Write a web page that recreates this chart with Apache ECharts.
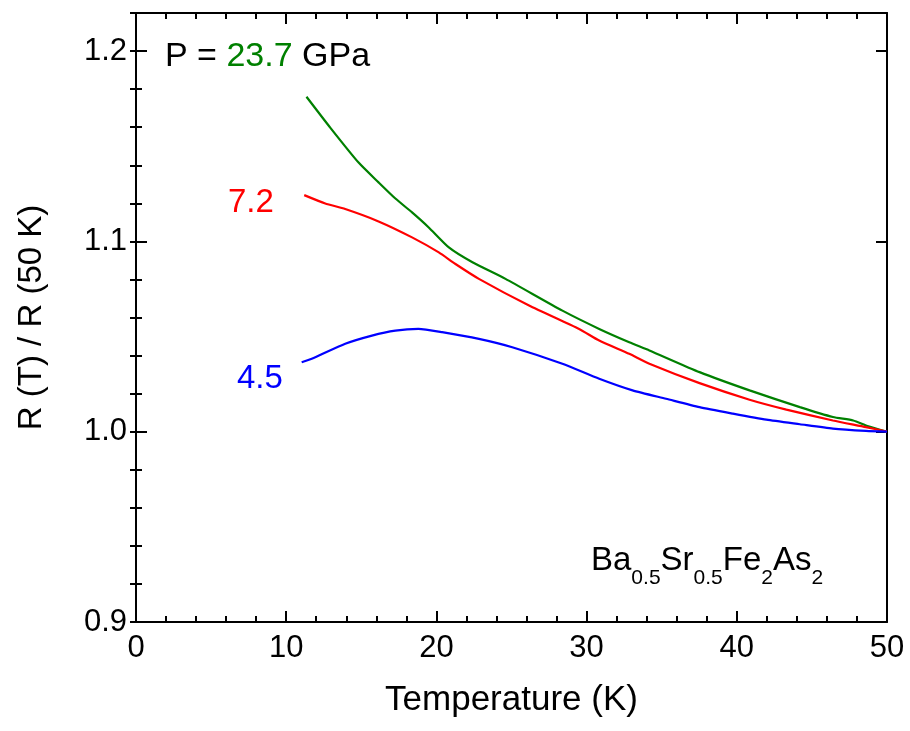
<!DOCTYPE html>
<html>
<head>
<meta charset="utf-8">
<title>R(T)/R(50 K) Ba0.5Sr0.5Fe2As2</title>
<script src="https://cdn.jsdelivr.net/npm/echarts@6/dist/echarts.min.js"></script>
<style>
  html, body { margin: 0; padding: 0; background: #fff; }
  #chart { width: 910px; height: 731px; }
</style>
</head>
<body>
<div id="chart"></div>
<script>
// temperature (K) and normalised resistance
const tGreen = [11.35, 12.93, 14.82, 16.15, 17.27, 18.38, 19.49, 20.83, 22.4, 24.6, 28.39, 30.84, 32.84, 34.18, 37.52, 40.85, 44.2, 46.4, 47.75, 48.7, 50];
const rGreen = [1.176, 1.1598, 1.1414, 1.131, 1.1225, 1.1152, 1.1073, 1.0968, 1.089, 1.0803, 1.0636, 1.054, 1.047, 1.0427, 1.0313, 1.0217, 1.0129, 1.0077, 1.0059, 1.003, 1.0];

const tRed = [11.2, 12.6, 13.93, 16.15, 18.38, 20.16, 21.27, 22.83, 26.17, 29.5, 30.84, 32.84, 34.18, 37.52, 40.85, 43.3, 46.4, 48.6, 50];
const rRed = [1.1243, 1.1199, 1.117, 1.1105, 1.1021, 1.0942, 1.0881, 1.0803, 1.0663, 1.054, 1.0479, 1.0409, 1.0357, 1.0255, 1.0168, 1.0116, 1.0059, 1.0024, 1.0];

const tBlue = [11.03, 11.7, 13.93, 15.71, 17.27, 18.8, 20.38, 22.83, 25.05, 28.39, 30.84, 33.06, 35.29, 37.52, 39.74, 41.97, 44.2, 46.4, 48.6, 50];
const rBlue = [1.0365, 1.0383, 1.0462, 1.0505, 1.0531, 1.054, 1.0523, 1.0488, 1.0444, 1.0357, 1.0278, 1.0217, 1.0173, 1.0129, 1.0095, 1.0063, 1.0039, 1.0016, 1.0004, 1.0];

const pressures = ['23.7', '7.2', '4.5'];
const colors = ['#008000', '#ff0000', '#0000ff'];

const font = 'Liberation Sans, Arial, sans-serif';
const zip = (xs, ys) => xs.map((x, i) => [x, ys[i]]);

const myChart = echarts.init(document.querySelector('#chart'));

const frame = { show: true, onZero: false, lineStyle: { color: '#000', width: 2 } };
const bigTick = { show: true, inside: true, length: 11, lineStyle: { color: '#000', width: 2 } };
const smallTick = { show: true, inside: true, length: 6, lineStyle: { color: '#000', width: 2 } };

const xCommon = {
  type: 'value', min: 0, max: 50, interval: 10,
  axisLine: frame, axisTick: bigTick,
  minorTick: { show: true, splitNumber: 5, length: 6, lineStyle: { color: '#000', width: 2 } },
  splitLine: { show: false }
};

const yMajor = {
  type: 'value', min: 0.9, max: 1.22, interval: 0.1,
  axisLine: frame, axisTick: bigTick, splitLine: { show: false }
};
const yMinor = {
  type: 'value', min: 0.9, max: 1.22, interval: 0.02,
  axisLine: { show: false }, axisTick: smallTick, axisLabel: { show: false }, splitLine: { show: false }
};

const option = {
  backgroundColor: '#fff',
  animation: false,
  grid: { left: 136, right: 23, top: 13, bottom: 109, containLabel: false },
  xAxis: [
    Object.assign({}, xCommon, {
      position: 'bottom',
      name: 'Temperature (K)', nameLocation: 'middle', nameGap: 61,
      nameTextStyle: { fontFamily: font, fontSize: 35, color: '#000' },
      axisLabel: { fontFamily: font, fontSize: 31, color: '#000', margin: 11 }
    }),
    Object.assign({}, xCommon, { position: 'top', axisLabel: { show: false } })
  ],
  yAxis: [
    Object.assign({}, yMajor, {
      position: 'left',
      name: 'R (T) / R (50 K)', nameLocation: 'middle', nameGap: 88,
      nameTextStyle: { fontFamily: font, fontSize: 33, color: '#000' },
      axisLabel: {
        fontFamily: font, fontSize: 31, color: '#000', margin: 9, showMaxLabel: false,
        formatter: v => v.toFixed(1)
      }
    }),
    Object.assign({}, yMajor, { position: 'right', axisLabel: { show: false } }),
    Object.assign({}, yMinor, { position: 'left' }),
    Object.assign({}, yMinor, { position: 'right' })
  ],
  series: [
    { name: pressures[0], type: 'line', data: zip(tGreen, rGreen) },
    { name: pressures[1], type: 'line', data: zip(tRed, rRed) },
    { name: pressures[2], type: 'line', data: zip(tBlue, rBlue) }
  ].map((s, i) => Object.assign(s, {
    xAxisIndex: 0, yAxisIndex: 0, showSymbol: false, smooth: 0.2,
    lineStyle: { color: colors[i], width: 2.2 }, itemStyle: { color: colors[i] }
  })),
  graphic: [
    {
      type: 'text', left: 165, top: 40,
      style: {
        text: '{k|P = }{g|' + pressures[0] + '}{k| GPa}',
        rich: {
          k: { fontFamily: font, fontSize: 34, fill: '#000' },
          g: { fontFamily: font, fontSize: 34, fill: colors[0] }
        }
      }
    },
    {
      type: 'text', left: 228, top: 186,
      style: { text: pressures[1], fontFamily: font, fontSize: 33, fill: colors[1] }
    },
    {
      type: 'text', left: 237, top: 362,
      style: { text: pressures[2], fontFamily: font, fontSize: 33, fill: colors[2] }
    },
    {
      type: 'text', left: 591, top: 532,
      style: {
        text: '{m|Ba}{s|0.5}{m|Sr}{s|0.5}{m|Fe}{s|2}{m|As}{s|2}',
        rich: {
          m: { fontFamily: font, fontSize: 33, lineHeight: 36, fill: '#000' },
          s: { fontFamily: font, fontSize: 21, lineHeight: 21, padding: [36, 0, 0, 0], fill: '#000' }
        }
      }
    }
  ]
};

myChart.setOption(option);

window.addEventListener('resize', function() {
  myChart.resize();
});
</script>
</body>
</html>
